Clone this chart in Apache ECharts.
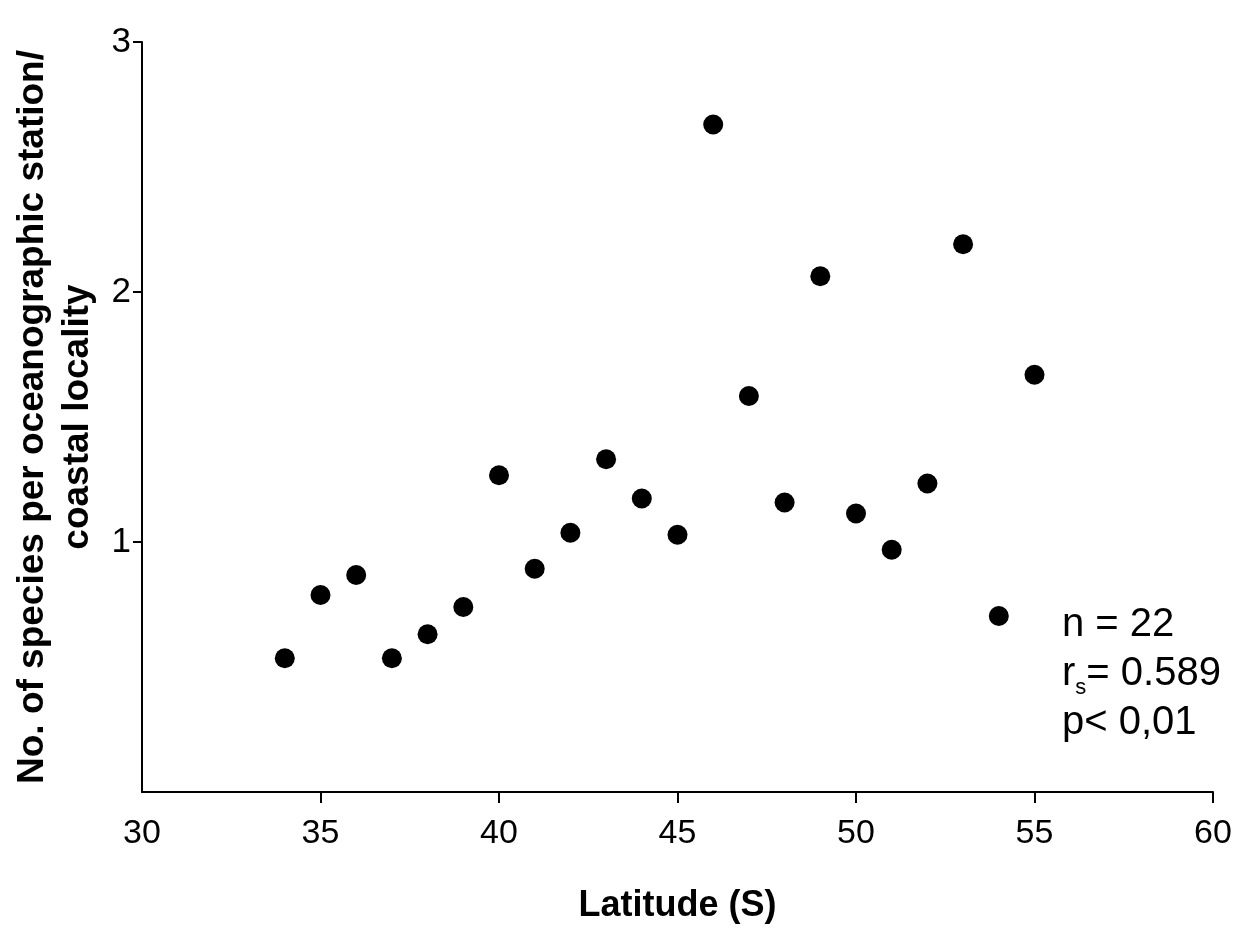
<!DOCTYPE html>
<html>
<head>
<meta charset="utf-8">
<script src="https://cdn.jsdelivr.net/npm/echarts@6/dist/echarts.min.js"></script>
<style>
  html, body { margin: 0; padding: 0; background: #fff; }
  #chart { width: 1260px; height: 944px; }
</style>
</head>
<body>
<div id="chart"></div>
<script>
// latitude (S) and species per station
var latitude = [34, 35, 36, 37, 38, 39, 40, 41, 42, 43, 44, 45, 46, 47, 48, 49, 50, 51, 52, 53, 54, 55];
var species = [0.535, 0.788, 0.868, 0.535, 0.631, 0.74, 1.267, 0.893, 1.037, 1.331, 1.174, 1.029,
  2.67, 1.584, 1.158, 2.063, 1.114, 0.969, 1.234, 2.191, 0.704, 1.669];

var xLabels = [30, 35, 40, 45, 50, 55, 60];
var xTicks = [35, 40, 45, 50, 55, 60];
var yTicks = [1, 2, 3];

var points = [];
for (var i = 0; i < latitude.length; i++) {
  points.push([latitude[i], species[i]]);
}

var chart = echarts.init(document.getElementById('chart'));
var font = 'Liberation Sans, Arial, sans-serif';

var option = {
  animation: false,
  backgroundColor: '#fff',
  grid: { left: 142, right: 47, top: 42, bottom: 152 },
  xAxis: {
    type: 'value',
    min: 30,
    max: 60,
    interval: 5,
    name: 'Latitude (S)',
    nameLocation: 'middle',
    nameGap: 96,
    nameTextStyle: { fontFamily: font, fontSize: 36, fontWeight: 'bold', color: '#000' },
    axisLine: { lineStyle: { color: '#000', width: 2 } },
    axisTick: { length: 11, customValues: xTicks, lineStyle: { color: '#000', width: 2 } },
    axisLabel: { customValues: xLabels, margin: 25, fontFamily: font, fontSize: 34, color: '#000' },
    splitLine: { show: false }
  },
  yAxis: {
    type: 'value',
    min: 0,
    max: 3,
    interval: 1,
    name: 'No. of species per oceanographic station/\ncoastal locality',
    nameLocation: 'middle',
    nameGap: 31,
    nameTextStyle: { fontFamily: font, fontSize: 37, fontWeight: 'bold', color: '#000', lineHeight: 45 },
    axisLine: { show: true, lineStyle: { color: '#000', width: 2 } },
    axisTick: { show: true, length: 9, customValues: yTicks, lineStyle: { color: '#000', width: 2 } },
    axisLabel: { customValues: yTicks, margin: 11, fontFamily: font, fontSize: 35, color: '#000' },
    splitLine: { show: false }
  },
  graphic: [{
    type: 'text',
    left: 1062,
    top: 605,
    style: {
      text: '{a|n = 22}\n{a|r}{s|s}{a|= 0.589}\n{a|p< 0,01}',
      rich: {
        a: { fontFamily: font, fontSize: 40, lineHeight: 49, fill: '#000' },
        s: { fontFamily: font, fontSize: 22, lineHeight: 22, verticalAlign: 'bottom', fill: '#000' }
      }
    }
  }],
  series: [{
    type: 'scatter',
    data: points,
    symbol: 'circle',
    symbolSize: 20,
    itemStyle: { color: '#000', opacity: 1 }
  }]
};

chart.setOption(option);
</script>
</body>
</html>
